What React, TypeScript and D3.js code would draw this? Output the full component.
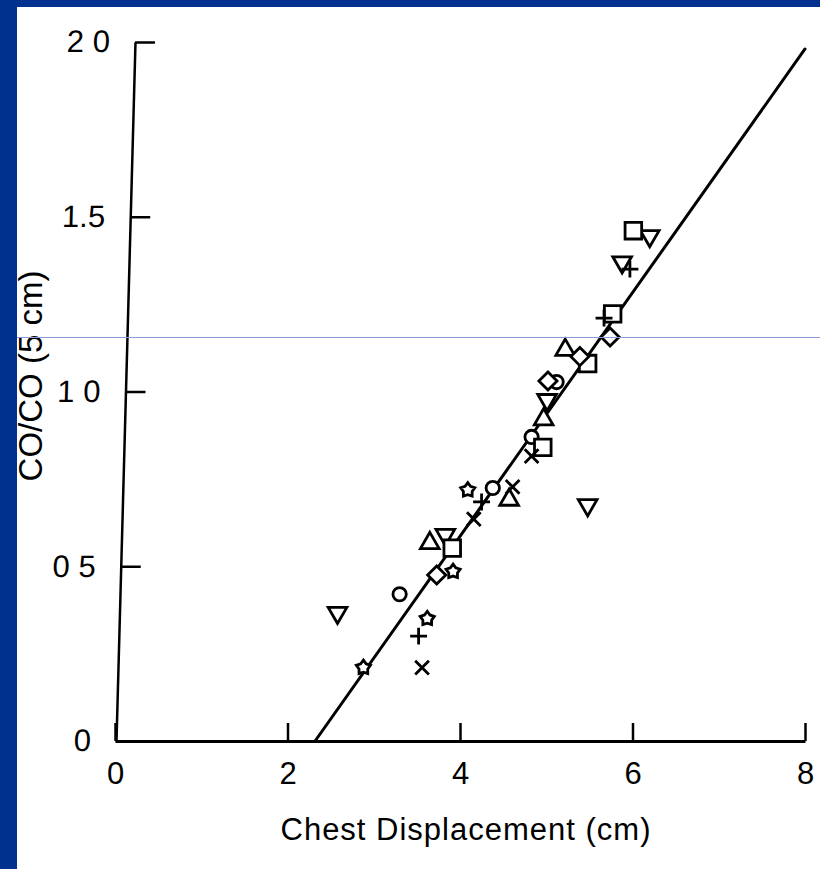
import React, { useEffect, useRef } from "react";
import * as d3 from "d3";

// TICKS
const xTicks = [0, 2, 4, 6, 8];
const xTickLabels = ["0", "2", "4", "6", "8"];
const yTicks = [0, 0.5, 1, 1.5, 2];
const yTickLabels = ["0", "0 5", "1 0", "1.5", "2 0"];

// FITTED LINE (end points)
const fitX = [2.32, 8.0];
const fitY = [0, 1.98];

// POINTS, one array per marker
const circles = [[3.3, 0.42], [4.38, 0.724], [4.83, 0.87], [5.12, 1.027]];
const trianglesUp = [[3.65, 0.566], [4.57, 0.69], [4.97, 0.92], [5.22, 1.119]];
const trianglesDown = [[2.58, 0.367], [3.83, 0.59], [5.48, 0.675], [5.01, 0.976], [5.88, 1.37], [6.2, 1.445]];
const squares = [[3.91, 0.552], [4.96, 0.84], [5.48, 1.08], [5.77, 1.222], [6.01, 1.46]];
const diamonds = [[3.73, 0.475], [5.02, 1.03], [5.39, 1.1], [5.74, 1.156]];
const stars = [[2.88, 0.21], [3.62, 0.35], [3.92, 0.485], [4.09, 0.718]];
const pluses = [[3.52, 0.3], [4.25, 0.684], [5.97, 1.35], [5.67, 1.21]];
const crosses = [[3.56, 0.21], [4.16, 0.635], [4.61, 0.727], [4.83, 0.815]];

// fat five point star like the scanned one
const fatStar = {
  draw(ctx: any, size: number) {
    const R = Math.sqrt(size) / 2;
    const r = R * 0.62;
    for (let i = 0; i < 10; i++) {
      const a = (i * Math.PI) / 5 - Math.PI / 2;
      const rad = i % 2 ? r : R;
      if (i === 0) ctx.moveTo(rad * Math.cos(a), rad * Math.sin(a));
      else ctx.lineTo(rad * Math.cos(a), rad * Math.sin(a));
    }
    ctx.closePath();
  },
};

export default function App() {
  const ref = useRef<SVGSVGElement>(null);

  useEffect(() => {
    const svg = d3.select(ref.current);
    svg.selectAll("*").remove();

    const font = "'Liberation Sans', Arial, Helvetica, sans-serif";

    const xScale = d3.scaleLinear().domain([0, 8]).range([115, 805]);
    const yScale = d3.scaleLinear().domain([0, 2]).range([741, 42]);

    svg.append("rect").attr("width", 820).attr("height", 869).attr("fill", "#fff");

    // X AXIS (ticks point up)
    const gx = svg
      .append("g")
      .attr("transform", `translate(0,${yScale(0)})`)
      .call(
        d3
          .axisBottom(xScale)
          .tickValues(xTicks)
          .tickSizeInner(-18)
          .tickSizeOuter(0)
          .tickPadding(21)
          .tickFormat((d, i) => xTickLabels[i])
      );
    gx.select(".domain").attr("stroke", "#000").attr("stroke-width", 3);
    gx.selectAll(".tick line").attr("stroke", "#000").attr("stroke-width", 2.5);
    gx.selectAll(".tick text")
      .attr("font-family", font)
      .attr("font-size", 31)
      .attr("fill", "#000");

    // Y AXIS (scanned slightly slanted)
    const k = 19 / 699;
    const gy = svg
      .append("g")
      .attr("transform", `translate(${116 + k * 741},0) skewX(${(Math.atan(-k) * 180) / Math.PI})`)
      .call(
        d3
          .axisLeft(yScale)
          .tickValues(yTicks)
          .tickSizeInner(-20)
          .tickSizeOuter(0)
          .tickPadding(25)
          .tickFormat((d, i) => yTickLabels[i])
      );
    gy.select(".domain").attr("stroke", "#000").attr("stroke-width", 2.5);
    gy.selectAll(".tick line").attr("stroke", "#000").attr("stroke-width", 2.5);
    gy.selectAll(".tick text")
      .attr("font-family", font)
      .attr("font-size", 31)
      .attr("fill", "#000");

    // AXIS TITLES
    svg
      .append("text")
      .attr("x", 466)
      .attr("y", 840)
      .attr("text-anchor", "middle")
      .attr("font-family", font)
      .attr("font-size", 31)
      .attr("letter-spacing", 1)
      .text("Chest Displacement (cm)");

    svg
      .append("text")
      .attr("transform", "translate(42,376) rotate(-90)")
      .attr("text-anchor", "middle")
      .attr("font-family", font)
      .attr("font-size", 33)
      .text("CO/CO (5 cm)");

    // FITTED LINE
    const line = d3
      .line<number>()
      .x((d, i) => xScale(fitX[i]))
      .y((d, i) => yScale(fitY[i]));
    svg
      .append("path")
      .datum(fitX)
      .attr("fill", "none")
      .attr("stroke", "#000")
      .attr("stroke-width", 3)
      .attr("stroke-linecap", "round")
      .attr("d", line);

    // MARKERS
    const groups: [number[][], any, number, number][] = [
      [circles, d3.symbolCircle, 140, 0],
      [trianglesUp, d3.symbolTriangle2, 250, 0],
      [trianglesDown, d3.symbolTriangle2, 250, 180],
      [squares, d3.symbolSquare2, 350, 0],
      [diamonds, d3.symbolDiamond2, 210, 0],
      [stars, fatStar, 220, 0],
      [pluses, d3.symbolPlus, 95, 0],
      [crosses, d3.symbolTimes, 125, 0],
    ];
    groups.forEach(([pts, type, size, rot]) => {
      svg
        .append("g")
        .selectAll("path")
        .data(pts)
        .join("path")
        .attr("transform", (d) => `translate(${xScale(d[0])},${yScale(d[1])}) rotate(${rot})`)
        .attr("d", d3.symbol().type(type).size(size)())
        .attr("fill", "#fff")
        .attr("stroke", "#000")
        .attr("stroke-width", 2.8);
    });

    // thin horizontal guide line across the slide
    svg
      .append("line")
      .attr("x1", 0)
      .attr("x2", 820)
      .attr("y1", 337.5)
      .attr("y2", 337.5)
      .attr("stroke", "#8a9bd6")
      .attr("stroke-width", 1);

    // BLUE SLIDE BORDER
    svg.append("rect").attr("x", 0).attr("y", 0).attr("width", 820).attr("height", 7).attr("fill", "#00318f");
    svg.append("rect").attr("x", 0).attr("y", 0).attr("width", 17).attr("height", 869).attr("fill", "#00318f");
  }, []);

  return (
    <svg
      ref={ref}
      width={820}
      height={869}
      style={{ position: "absolute", left: 0, top: 0, display: "block" }}
    />
  );
}
